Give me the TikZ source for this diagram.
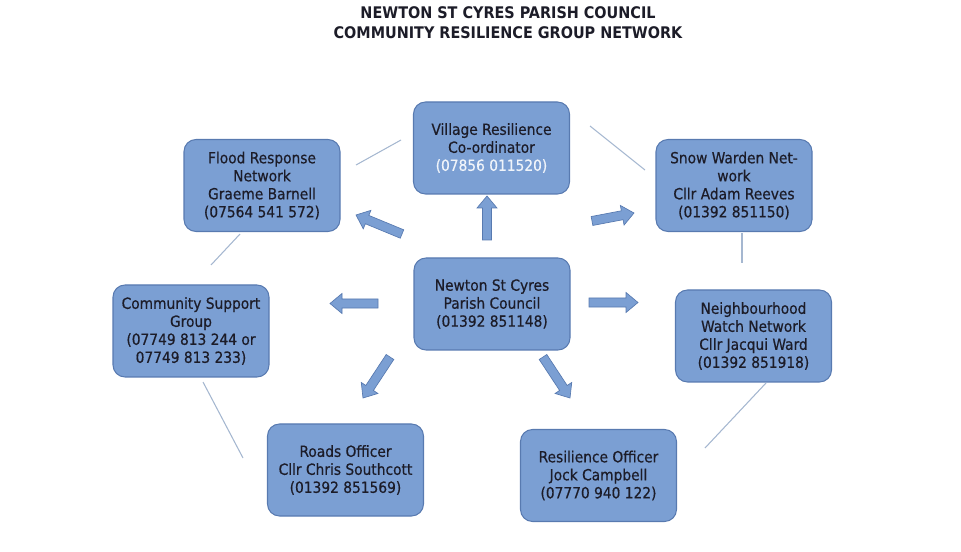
\documentclass[tikz,border=0pt]{standalone}
\usepackage{fontspec}
\setmainfont{DejaVu Sans Condensed}
\newfontfamily\boxfont[FakeBold=0.5]{DejaVu Sans Condensed}
\usetikzlibrary{calc}
\definecolor{boxblue}{RGB}{123,159,211}
\definecolor{boxedge}{RGB}{88,122,176}
\definecolor{txtdark}{RGB}{28,28,40}
\definecolor{linkcol}{RGB}{165,183,208}
\definecolor{phonewhite}{RGB}{240,244,250}
\newcommand\blockarrow[2]{%
  \coordinate (hb) at ($(#2)!9pt!(#1)$);
  \draw[arrowstyle] ($(#1)!3.4pt!90:(#2)$) -- ($(hb)!3.4pt!90:(#2)$) -- ($(hb)!7.5pt!90:(#2)$) -- (#2)
    -- ($(hb)!7.5pt!-90:(#2)$) -- ($(hb)!3.4pt!-90:(#2)$) -- ($(#1)!3.4pt!-90:(#2)$) -- cycle;}
\begin{document}
\begin{tikzpicture}[x=0.75pt,y=-0.75pt,
  box/.style={draw=boxedge, line width=0.8pt, fill=boxblue, rounded corners=9pt,
    minimum width=117pt, minimum height=69pt, align=center, text=txtdark,
    font=\boxfont\fontsize{11.5}{13.5}\selectfont, inner sep=2pt},
  link/.style={draw=linkcol, line width=0.8pt},
  arrowstyle/.style={fill=boxblue, draw=boxedge, line width=0.5pt, line join=miter},
  titlestyle/.style={font=\bfseries\fontsize{12}{15}\selectfont, text=txtdark, align=center}]
\useasboundingbox (0,0) rectangle (961,552);
\node[titlestyle] (title) at (508,23) {NEWTON ST CYRES PARISH COUNCIL\\COMMUNITY RESILIENCE GROUP NETWORK};

\node[box] (vrc) at (491.5,148) {Village Resilience\\Co-ordinator\\\textcolor{phonewhite}{(07856 011520)}};
\node[box] (flood) at (262,185.5) {Flood Response\\Network\\Graeme Barnell\\(07564 541 572)};
\node[box] (snow) at (734,185.5) {Snow Warden Net-\\work\\Cllr Adam Reeves\\(01392 851150)};
\node[box] (comm) at (191,331) {Community Support\\Group\\(07749 813 244 or\\07749 813 233)};
\node[box] (pc) at (492,304) {Newton St Cyres\\Parish Council\\(01392 851148)};
\node[box] (nw) at (753.5,336) {Neighbourhood\\Watch Network\\Cllr Jacqui Ward\\(01392 851918)};
\node[box] (roads) at (345.5,470) {Roads Officer\\Cllr Chris Southcott\\(01392 851569)};
\node[box] (resil) at (598.5,475.5) {Resilience Officer\\Jock Campbell\\(07770 940 122)};

% thin links
\coordinate (l1a) at (356,165); \coordinate (l1b) at (401,140);
\coordinate (l2a) at (590,126); \coordinate (l2b) at (645,170);
\coordinate (l3a) at (240,234); \coordinate (l3b) at (211,265);
\coordinate (l4a) at (742,233); \coordinate (l4b) at (742,263);
\coordinate (l5a) at (203,382); \coordinate (l5b) at (243,458);
\coordinate (l6a) at (766,383); \coordinate (l6b) at (705,448);
\draw[link] (l1a) -- (l1b);
\draw[link] (l2a) -- (l2b);
\draw[link] (l3a) -- (l3b);
\draw[link] (l4a) -- (l4b);
\draw[link] (l5a) -- (l5b);
\draw[link] (l6a) -- (l6b);

% block arrows
\coordinate (a1t) at (487,240); \coordinate (a1h) at (487,196);
\coordinate (a2t) at (402,234); \coordinate (a2h) at (356,215);
\coordinate (a3t) at (592,221); \coordinate (a3h) at (634,213);
\coordinate (a4t) at (378,303.5); \coordinate (a4h) at (330,303.5);
\coordinate (a5t) at (589,302.5); \coordinate (a5h) at (638,302.5);
\coordinate (a6t) at (390,357); \coordinate (a6h) at (363,398);
\coordinate (a7t) at (543,357); \coordinate (a7h) at (570,398);
\blockarrow{a1t}{a1h}
\blockarrow{a2t}{a2h}
\blockarrow{a3t}{a3h}
\blockarrow{a4t}{a4h}
\blockarrow{a5t}{a5h}
\blockarrow{a6t}{a6h}
\blockarrow{a7t}{a7h}
\end{tikzpicture}
\end{document}
